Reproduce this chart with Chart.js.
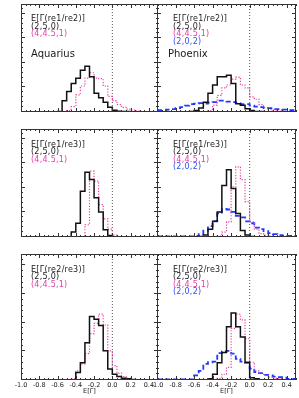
<!DOCTYPE html>
<html>
<head>
<meta charset="utf-8">
<script src="https://cdn.jsdelivr.net/npm/chart.js@4.4.1/dist/chart.umd.min.js"></script>
<style>
  body { margin: 0; background: #fff; }
  #fig { position: relative; width: 299px; height: 398px; overflow: hidden; background: #fff; }
  #fig canvas { position: absolute; }
  .lab { position: absolute; font: 8px 'DejaVu Sans'; line-height: 7.6px; letter-spacing: 0.25px; white-space: nowrap; color: #1a1a1a; }
  .lab .m { color: #e23ca6; }
  .lab .b { color: #3050f0; }
  .name { position: absolute; font: 10px 'DejaVu Sans'; line-height: 10px; white-space: nowrap; color: #1a1a1a; }
</style>
</head>
<body>
<div id="fig"></div>
<script>
// left edges of the 0.05 wide bins, last bin closes at 0.5
const binLeft = [-1.00, -0.95, -0.90, -0.85, -0.80, -0.75, -0.70, -0.65, -0.60, -0.55,
                 -0.50, -0.45, -0.40, -0.35, -0.30, -0.25, -0.20, -0.15, -0.10, -0.05,
                  0.00,  0.05,  0.10,  0.15,  0.20,  0.25,  0.30,  0.35,  0.40,  0.45];
const binEnd = 0.5;
const xTickValues = [-1.0, -0.8, -0.6, -0.4, -0.2, 0.0, 0.2, 0.4];
const yMax = 0.22;

// Aquarius, E[Gamma(re1/re2)]
const aquR12Black = [null, null, null, null, 0, 0, 0, 0, 0.001, 0.023,
                     0.042, 0.058, 0.069, 0.085, 0.093, 0.072, 0.038, 0.029, 0.020, 0.0095,
                     0.0036, 0.0015, 0.001, 0.001, 0, null, null, null, null, null];
const aquR12Pink  = [null, null, null, null, null, null, null, null, null, 0,
                     0.003, 0.011, 0.035, 0.053, 0.069, 0.080, 0.069, 0.068, 0.053, 0.032,
                     0.023, 0.015, 0.0095, 0.006, 0.004, 0.002, 0.001, 0.001, 0, null];
// Phoenix, E[Gamma(re1/re2)]
const phxR12Black = [null, null, null, null, null, 0, 0, 0.001, 0.003, 0.008,
                     0.020, 0.038, 0.055, 0.072, 0.072, 0.075, 0.058, 0.017, 0.014, 0.0065,
                     0.003, 0.001, 0.001, 0, null, null, null, null, null, null];
const phxR12Pink  = [null, null, null, null, null, null, null, null, null, null,
                     0, 0.003, 0.014, 0.034, 0.049, 0.055, 0.067, 0.071, 0.055, 0.049,
                     0.031, 0.026, 0.015, 0.009, 0.005, 0.004, 0.002, 0.001, 0.001, 0];
const phxR12Blue  = [0.004, 0.004, 0.005, 0.006, 0.008, 0.010, 0.013, 0.016, 0.017, 0.018,
                     0.017, 0.019, 0.020, 0.023, 0.023, 0.021, 0.020, 0.018, 0.016, 0.016,
                     0.013, 0.011, 0.010, 0.008, 0.008, 0.006, 0.006, 0.005, 0.004, 0.004];
// Aquarius, E[Gamma(re1/re3)]
const aquR13Black = [null, null, null, null, null, null, null, null, null, 0,
                     0, 0.010, 0.028, 0.093, 0.132, 0.117, 0.080, 0.051, 0.015, 0.003,
                     0, null, null, null, null, null, null, null, null, null];
const aquR13Pink  = [null, null, null, null, null, null, null, null, null, null,
                     null, null, null, 0, 0.025, 0.134, 0.114, 0.066, 0.037, 0.016,
                     0.004, 0.001, 0, null, null, null, null, null, null, null];
// Phoenix, E[Gamma(re1/re3)]
const phxR13Black = [null, null, null, null, null, null, null, null, 0, 0.001,
                     0.004, 0.016, 0.032, 0.051, 0.105, 0.137, 0.099, 0.048, 0.013, 0.004,
                     0.001, 0, null, null, null, null, null, null, null, null];
const phxR13Pink  = [null, null, null, null, null, null, null, null, null, null,
                     null, null, 0, 0.002, 0.010, 0.031, 0.102, 0.143, 0.117, 0.072,
                     0.031, 0.016, 0.007, 0.004, 0.002, 0, null, null, null, null];
const phxR13Blue  = [0.001, 0.001, 0.001, 0.001, 0.001, 0.001, 0.001, 0.001, 0.002, 0.006,
                     0.013, 0.022, 0.032, 0.048, 0.057, 0.056, 0.051, 0.043, 0.040, 0.032,
                     0.028, 0.019, 0.016, 0.012, 0.008, 0.006, 0.004, 0.003, 0.002, 0.002];
// Aquarius, E[Gamma(re2/re3)]
const aquR23Black = [null, null, null, null, null, null, null, null, null, null,
                     null, 0, 0.013, 0.030, 0.065, 0.111, 0.106, 0.095, 0.051, 0.019,
                     0.010, 0.006, 0.003, 0.002, 0.001, 0, null, null, null, null];
const aquR23Pink  = [null, null, null, null, null, null, null, null, null, null,
                     0, 0.002, 0.016, 0.028, 0.046, 0.081, 0.099, 0.115, 0.096, 0.051,
                     0.025, 0.012, 0.006, 0.003, 0, null, null, null, null, null];
// Phoenix, E[Gamma(re2/re3)]
const phxR23Black = [null, null, null, null, null, null, null, null, null, null,
                     0, 0.002, 0.010, 0.030, 0.048, 0.093, 0.117, 0.093, 0.075, 0.031,
                     0.004, 0.002, 0, null, null, null, null, null, null, null];
const phxR23Pink  = [null, null, null, null, null, null, null, null, null, null,
                     null, null, 0, 0.003, 0.010, 0.022, 0.090, 0.115, 0.105, 0.072,
                     0.031, 0.016, 0.012, 0.008, 0.005, 0.003, 0.002, 0, null, null];
const phxR23Blue  = [0.001, 0.001, 0.001, 0.001, 0.001, 0.001, 0.001, 0.001, 0.008, 0.016,
                     0.028, 0.031, 0.032, 0.047, 0.050, 0.051, 0.046, 0.037, 0.032, 0.030,
                     0.020, 0.014, 0.012, 0.009, 0.008, 0.006, 0.005, 0.004, 0.002, 0.002];

const modelLabels = ['(2,5,0)', '(4,4.5,1)', '(2,0,2)'];

const cols = [{ left: 21, right: 158 }, { left: 157, right: 296 }];
const rows = [{ top: 4, bottom: 130 }, { top: 129, bottom: 255 }, { top: 254, bottom: 380 }];
const sidePad = 12;
const axisHeight = 18;

const panels = [
  { row: 0, col: 0, ratio: 're1/re2', name: 'Aquarius', black: aquR12Black, pink: aquR12Pink, blue: null },
  { row: 0, col: 1, ratio: 're1/re2', name: 'Phoenix',  black: phxR12Black, pink: phxR12Pink, blue: phxR12Blue },
  { row: 1, col: 0, ratio: 're1/re3', name: null, black: aquR13Black, pink: aquR13Pink, blue: null },
  { row: 1, col: 1, ratio: 're1/re3', name: null, black: phxR13Black, pink: phxR13Pink, blue: phxR13Blue },
  { row: 2, col: 0, ratio: 're2/re3', name: null, black: aquR23Black, pink: aquR23Pink, blue: null },
  { row: 2, col: 1, ratio: 're2/re3', name: null, black: phxR23Black, pink: phxR23Pink, blue: phxR23Blue },
];

function histPoints(vals) {
  const pts = binLeft.map((x, i) => ({ x: x, y: vals[i] }));
  pts.push({ x: binEnd, y: vals[vals.length - 1] === null ? null : 0 });
  return pts;
}

// box with inward ticks on all four sides, IDL style
const frameTicks = {
  id: 'frameTicks',
  afterDatasetsDraw(chart) {
    const { ctx, chartArea: a, scales: { x, y } } = chart;
    ctx.save();
    ctx.strokeStyle = '#333';
    ctx.lineWidth = 1;
    ctx.strokeRect(a.left + 0.5, a.top + 0.5, a.right - a.left - 1, a.bottom - a.top - 1);
    ctx.beginPath();
    for (let k = 0; k <= 30; k++) {
      const v = -1 + k * 0.05;
      const len = k % 4 === 0 ? 4 : 2;
      const px = Math.round(x.getPixelForValue(v)) + 0.5;
      ctx.moveTo(px, a.top); ctx.lineTo(px, a.top + len);
      ctx.moveTo(px, a.bottom); ctx.lineTo(px, a.bottom - len);
    }
    for (let k = 0; k <= 22; k++) {
      const len = k % 5 === 0 ? 4 : 2;
      const py = Math.round(y.getPixelForValue(k * 0.01)) - 0.5;
      ctx.moveTo(a.left, py); ctx.lineTo(a.left + len, py);
      ctx.moveTo(a.right, py); ctx.lineTo(a.right - len, py);
    }
    ctx.stroke();
    ctx.restore();
  }
};

const fig = document.getElementById('fig');

panels.forEach(p => {
  const c = cols[p.col], r = rows[p.row];
  const isBottom = p.row === rows.length - 1;
  const canvas = document.createElement('canvas');
  const w = c.right - c.left + 2 * sidePad;
  const h = r.bottom - r.top + (isBottom ? axisHeight : 0);
  canvas.width = w; canvas.height = h;
  canvas.style.left = (c.left - sidePad) + 'px';
  canvas.style.top = r.top + 'px';
  canvas.style.width = w + 'px'; canvas.style.height = h + 'px';
  fig.appendChild(canvas);

  const datasets = [
    { data: histPoints(p.black), borderColor: '#111', borderWidth: 1.5 },
    { data: histPoints(p.pink), borderColor: '#e8409f', borderWidth: 1.2, borderDash: [1.2, 1.6] },
  ];
  if (p.blue) {
    datasets.push({ data: histPoints(p.blue), borderColor: '#2038ff', borderWidth: 1.8, borderDash: [5, 3] });
  }
  datasets.push({ data: [{ x: 0, y: 0 }, { x: 0, y: yMax }], borderColor: '#555', borderWidth: 1, borderDash: [1, 2], stepped: false });

  new Chart(canvas, {
    type: 'line',
    data: { datasets: datasets.map(d => Object.assign({ stepped: 'before', pointRadius: 0, fill: false, tension: 0 }, d)) },
    options: {
      responsive: false,
      animation: false,
      devicePixelRatio: 1,
      events: [],
      layout: { padding: { left: sidePad, right: sidePad, top: 0, bottom: 0 } },
      plugins: { legend: { display: false }, tooltip: { enabled: false } },
      scales: {
        x: {
          type: 'linear', min: -1.0, max: binEnd,
          display: isBottom,
          grid: { display: false, drawTicks: false },
          border: { display: false },
          afterBuildTicks: s => { s.ticks = xTickValues.map(v => ({ value: v })); },
          afterFit: s => { s.height = axisHeight; },
          ticks: {
            padding: 1, color: '#222', maxRotation: 0, autoSkip: false,
            font: { family: 'DejaVu Sans', size: 6.5 },
            callback: v => v.toFixed(1)
          },
          title: {
            display: true, text: 'E[\u0393]', color: '#222',
            font: { family: 'DejaVu Sans', size: 6.5 },
            padding: { top: 0, bottom: 3 }
          }
        },
        y: { type: 'linear', min: 0, max: yMax, display: false }
      }
    },
    plugins: [frameTicks]
  });

  // annotation block
  const lab = document.createElement('div');
  lab.className = 'lab';
  lab.style.left = (p.col === 0 ? 31 : 173) + 'px';
  lab.style.top = (r.top + (p.row === 0 ? 11 : 11.5)) + 'px';
  let html = 'E[\u0393(' + p.ratio + ')]<br>' + modelLabels[0] + '<br><span class="m">' + modelLabels[1] + '</span>';
  if (p.blue) html += '<br><span class="b">' + modelLabels[2] + '</span>';
  lab.innerHTML = html;
  fig.appendChild(lab);

  if (p.name) {
    const nm = document.createElement('div');
    nm.className = 'name';
    nm.style.left = (p.col === 0 ? 31 : 168) + 'px';
    nm.style.top = (r.top + 44.5) + 'px';
    nm.textContent = p.name;
    fig.appendChild(nm);
  }
});
</script>
</body>
</html>
